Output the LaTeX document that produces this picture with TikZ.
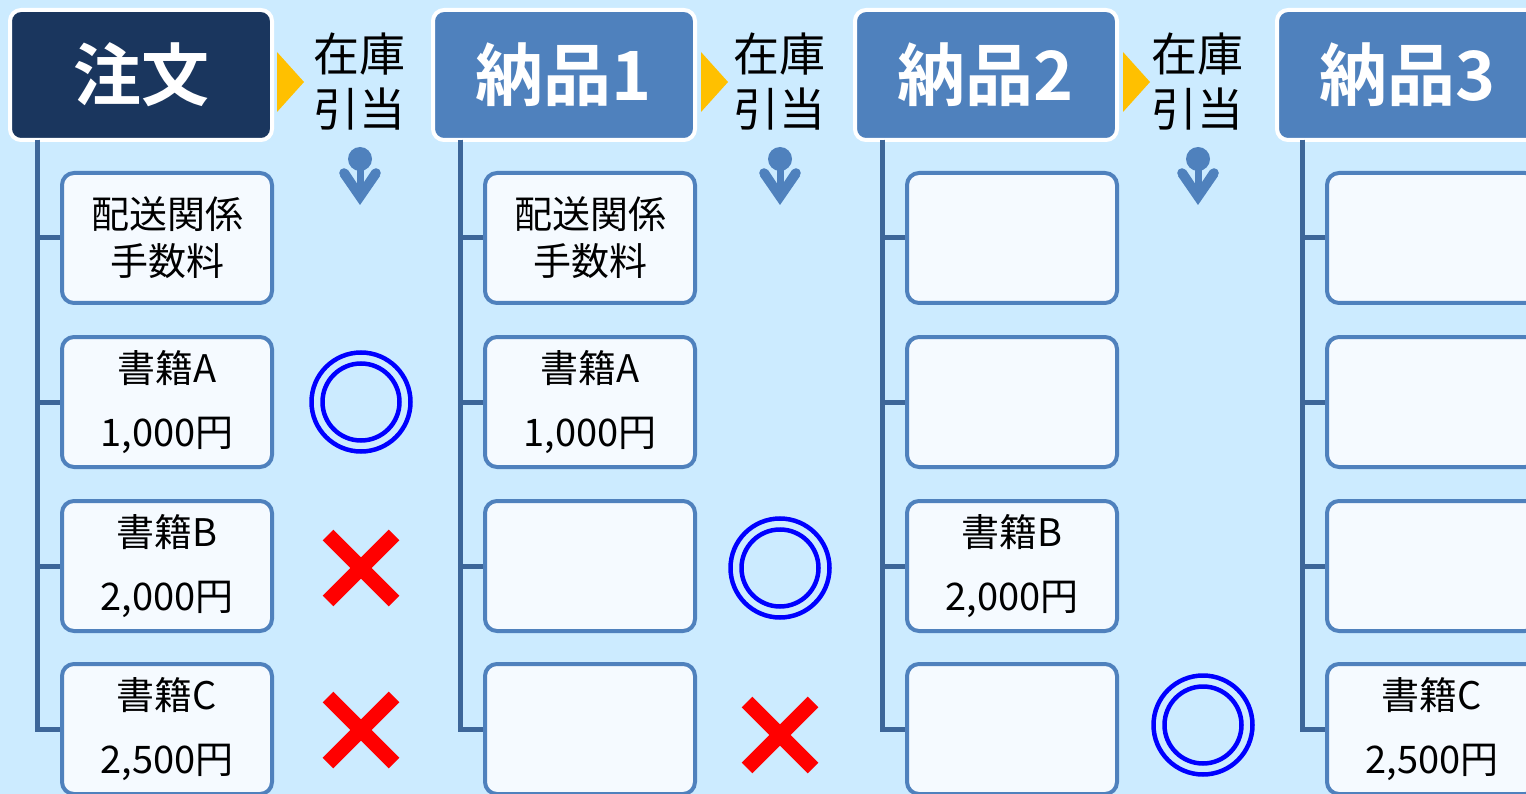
\documentclass[tikz,border=0pt]{standalone}
\usepackage{fontspec}
\setmainfont{Noto Sans CJK JP}
\newfontfamily\jpbold{Noto Sans CJK JP Bold}
\definecolor{bgc}{HTML}{CCEBFF}
\definecolor{navy}{HTML}{1A365E}
\definecolor{midblue}{HTML}{4F81BD}
\definecolor{linec}{HTML}{3D6699}
\definecolor{boxfill}{HTML}{F5FAFF}
\definecolor{goldc}{HTML}{FFC000}
\tikzset{
  hdr/.style={draw=white, line width=4pt, rounded corners=11pt, fill=midblue,
    minimum width=262pt, minimum height=130pt, inner sep=0pt, text=white,
    font=\jpbold\fontsize{68}{70}\selectfont},
  item/.style={draw=midblue, line width=4pt, rounded corners=12pt, fill=boxfill,
    minimum width=210pt, minimum height=130pt, inner sep=0pt, align=center,
    font=\fontsize{38}{47}\selectfont},
  conn/.style={draw=linec, line width=5pt},
  tri/.style={fill=goldc},
  label2/.style={align=center, inner sep=0pt, font=\fontsize{46}{55}\selectfont},
  icon/.style={fill=midblue},
  okmark/.style={draw=blue, line width=4.5pt},
  ngmark/.style={draw=red, line width=15pt},
}
\begin{document}
\begin{tikzpicture}[x=1pt,y=-1pt]
\useasboundingbox (0,0) rectangle (1526,794);
\clip (0,0) rectangle (1526,794);
\fill[bgc] (0,0) rectangle (1526,794);

% headers
\node[hdr, fill=navy] (h0) at (141,75) {注文};
\node[hdr] (h1) at (564,75) {納品1};
\node[hdr] (h2) at (986,75) {納品2};
\node[hdr] (h3) at (1408,75) {納品3};

% connectors and items
\foreach \k/\cx in {0/0,1/423,2/845,3/1265}{
  \coordinate (s\k) at (37+\cx,140);
  \node[item] (b\k-1) at (167+\cx,238) {};
  \node[item] (b\k-2) at (167+\cx,402) {};
  \node[item] (b\k-3) at (167+\cx,566) {};
  \node[item] (b\k-4) at (167+\cx,729) {};
  \draw[conn] (s\k) |- (b\k-4.west);
  \draw[conn] (s\k) |- (b\k-1.west);
  \draw[conn] (s\k) |- (b\k-2.west);
  \draw[conn] (s\k) |- (b\k-3.west);
}

% texts in boxes
\node[align=center, font=\fontsize{38}{47}\selectfont] (t01) at (b0-1) {配送関係\\手数料};
\node[align=center, font=\fontsize{38}{47}\selectfont] (t02) at (b0-2) {書籍A\\[17pt]1,000円};
\node[align=center, font=\fontsize{38}{47}\selectfont] (t03) at (b0-3) {書籍B\\[17pt]2,000円};
\node[align=center, font=\fontsize{38}{47}\selectfont] (t04) at (b0-4) {書籍C\\[17pt]2,500円};
\node[align=center, font=\fontsize{38}{47}\selectfont] (t11) at (b1-1) {配送関係\\手数料};
\node[align=center, font=\fontsize{38}{47}\selectfont] (t12) at (b1-2) {書籍A\\[17pt]1,000円};
\node[align=center, font=\fontsize{38}{47}\selectfont] (t23) at (b2-3) {書籍B\\[17pt]2,000円};
\node[align=center, font=\fontsize{38}{47}\selectfont] (t34) at (b3-4) {書籍C\\[17pt]2,500円};

% allocation labels, triangles and down icons
\foreach \k/\tx/\ax in {0/277/360,1/701/780,2/1123/1198}{
  \fill[tri] (\tx,52) -- (\tx+27,82) -- (\tx,112) -- cycle;
  \node[label2] (l\k) at (\ax-1,82) {在庫\\引当};
  \fill[icon] (\ax,159) circle (12);
  \fill[icon] (\ax-3.5,165) rectangle (\ax+3.5,192);
  \fill[icon] (\ax-20,176) -- (\ax,205) -- (\ax+20,176) -- (\ax+12,170) -- (\ax,188) -- (\ax-12,170) -- cycle;
  \fill[icon] (\ax-16,173) circle (4.8);
  \fill[icon] (\ax+16,173) circle (4.8);
}

% OK marks
\foreach \x/\y in {361/402, 780/568, 1203/725}{
  \draw[okmark] (\x,\y) circle (49.5);
  \draw[okmark] (\x,\y) circle (38.5);
}
% NG marks
\foreach \x/\y in {361/568, 361/730, 780/735}{
  \draw[ngmark] (\x-33,\y-33) -- (\x+33,\y+33);
  \draw[ngmark] (\x+33,\y-33) -- (\x-33,\y+33);
}
\end{tikzpicture}
\end{document}
